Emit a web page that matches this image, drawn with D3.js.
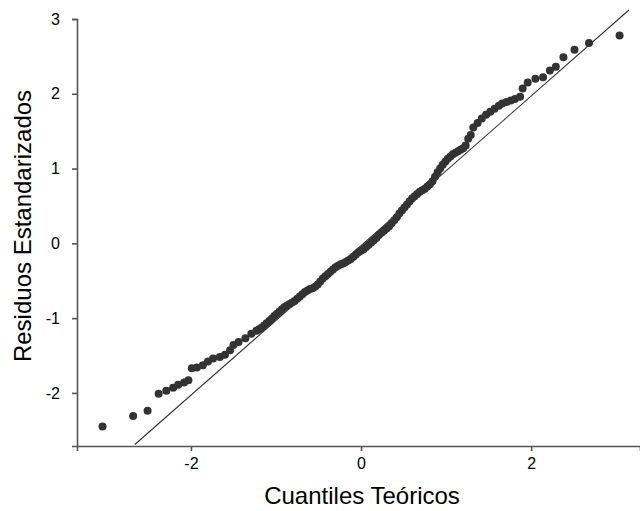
<!DOCTYPE html>
<html>
<head>
<meta charset="utf-8">
<script src="https://cdn.jsdelivr.net/npm/d3@7"></script>
<style>
  body { margin: 0; background: #fff; }
  svg { display: block; font-family: "Liberation Sans", Arial, sans-serif; }
</style>
</head>
<body>
<div id="chart"></div>
<script>
// theoretical quantiles (x) and standardized residuals (y)
const theoretical = [
  -3.04, -2.68, -2.51, -2.38, -2.29, -2.21, -2.15, -2.08, -2.03,
  -1.99, -1.93, -1.86, -1.80, -1.74, -1.66, -1.60, -1.54, -1.50, -1.44, -1.36, -1.29, -1.23,
  -1.20, -1.17, -1.14, -1.11, -1.08, -1.05, -1.02, -0.99, -0.96, -0.93, -0.90, -0.87, -0.84,
  -0.81, -0.78, -0.75, -0.72, -0.69, -0.66, -0.63, -0.60, -0.57, -0.54, -0.51, -0.48, -0.45,
  -0.42, -0.39, -0.36, -0.33, -0.30, -0.27, -0.24, -0.21, -0.18, -0.15, -0.12, -0.09, -0.06,
  -0.03, 0.00, 0.03, 0.06, 0.09, 0.12, 0.15, 0.18, 0.21, 0.24, 0.27, 0.30, 0.33, 0.36, 0.39,
  0.42, 0.45, 0.48, 0.51, 0.54, 0.57, 0.60, 0.63, 0.66, 0.69, 0.72, 0.75, 0.78, 0.81, 0.84,
  0.87, 0.90, 0.93, 0.96, 0.99, 1.02, 1.05, 1.08, 1.11, 1.14, 1.17, 1.20, 1.23, 1.26, 1.29,
  1.32, 1.37, 1.42, 1.47, 1.52, 1.57, 1.62, 1.66, 1.71, 1.76, 1.81, 1.87, 1.90, 1.96,
  2.05, 2.14, 2.22, 2.29, 2.38, 2.51, 2.68, 3.04
];
const residuals = [
  -2.45, -2.31, -2.24, -2.01, -1.97, -1.93, -1.89, -1.86, -1.83,
  -1.67, -1.66, -1.63, -1.58, -1.54, -1.52, -1.49, -1.43, -1.36, -1.32, -1.27, -1.21, -1.17,
  -1.15, -1.13, -1.10, -1.07, -1.04, -1.01, -0.97, -0.94, -0.91, -0.88, -0.85, -0.83, -0.81,
  -0.79, -0.77, -0.74, -0.71, -0.68, -0.65, -0.63, -0.61, -0.60, -0.58, -0.55, -0.51, -0.47,
  -0.44, -0.41, -0.38, -0.35, -0.32, -0.30, -0.28, -0.27, -0.25, -0.23, -0.21, -0.18, -0.15,
  -0.12, -0.10, -0.08, -0.05, -0.02, 0.01, 0.04, 0.07, 0.11, 0.14, 0.17, 0.20, 0.23, 0.27, 0.31,
  0.35, 0.40, 0.44, 0.48, 0.52, 0.56, 0.60, 0.63, 0.66, 0.69, 0.71, 0.73, 0.76, 0.79, 0.83,
  0.89, 0.95, 1.00, 1.05, 1.09, 1.13, 1.16, 1.19, 1.21, 1.23, 1.25, 1.27, 1.31, 1.40, 1.45,
  1.55, 1.61, 1.67, 1.72, 1.76, 1.80, 1.84, 1.87, 1.89, 1.91, 1.93, 1.96, 2.07, 2.15,
  2.20, 2.22, 2.31, 2.36, 2.49, 2.59, 2.68, 2.78
];
// reference line endpoints (x, y)
const refLine = [[-2.66, -2.69], [3.15, 3.12]];
const xTicks = [-2, 0, 2];
const yTicks = [-2, -1, 0, 1, 2, 3];

const width = 640, height = 511;
const svg = d3.select('#chart').append('svg')
  .attr('width', width)
  .attr('height', height);

const x = d3.scaleLinear().domain([-3.34, 3.28]).range([77, 640]);
const y = d3.scaleLinear().domain([-2.71, 3.0]).range([446, 19]);

// Reference line
svg.append('line')
  .attr('x1', x(refLine[0][0])).attr('y1', y(refLine[0][1]))
  .attr('x2', x(refLine[1][0])).attr('y2', y(refLine[1][1]))
  .attr('stroke', '#2f2f2f')
  .attr('stroke-width', 1.1);

// Points
svg.append('g')
  .selectAll('circle')
  .data(theoretical.map((t, i) => [t, residuals[i]]))
  .join('circle')
  .attr('cx', d => x(d[0]))
  .attr('cy', d => y(d[1]))
  .attr('r', 4)
  .attr('fill', '#333333');

// Axes (plain hyphen for negatives, like the original)
const fmt = d => String(d);
const xAxis = svg.append('g')
  .attr('transform', 'translate(0,446)')
  .call(d3.axisBottom(x).tickValues(xTicks).tickSizeOuter(0).tickSize(5).tickPadding(7).tickFormat(fmt));
const yAxis = svg.append('g')
  .attr('transform', 'translate(77,0)')
  .call(d3.axisLeft(y).tickValues(yTicks).tickSizeOuter(0).tickSize(5).tickPadding(12).tickFormat(fmt));

[xAxis, yAxis].forEach(a => {
  a.select('.domain').attr('stroke', '#555').attr('stroke-width', 1.6);
  a.selectAll('.tick line').attr('stroke', '#555').attr('stroke-width', 1.6);
  a.selectAll('.tick text')
    .attr('fill', '#000')
    .style('font-size', '16px')
    .style('font-family', '"Liberation Sans", Arial, sans-serif');
});

// Axis titles
svg.append('text')
  .attr('x', 362)
  .attr('y', 504)
  .attr('text-anchor', 'middle')
  .style('font-size', '24px')
  .attr('fill', '#000')
  .text('Cuantiles Teóricos');

svg.append('text')
  .attr('transform', 'translate(31,226) rotate(-90)')
  .attr('text-anchor', 'middle')
  .style('font-size', '24px')
  .attr('fill', '#000')
  .text('Residuos Estandarizados');
</script>
</body>
</html>
